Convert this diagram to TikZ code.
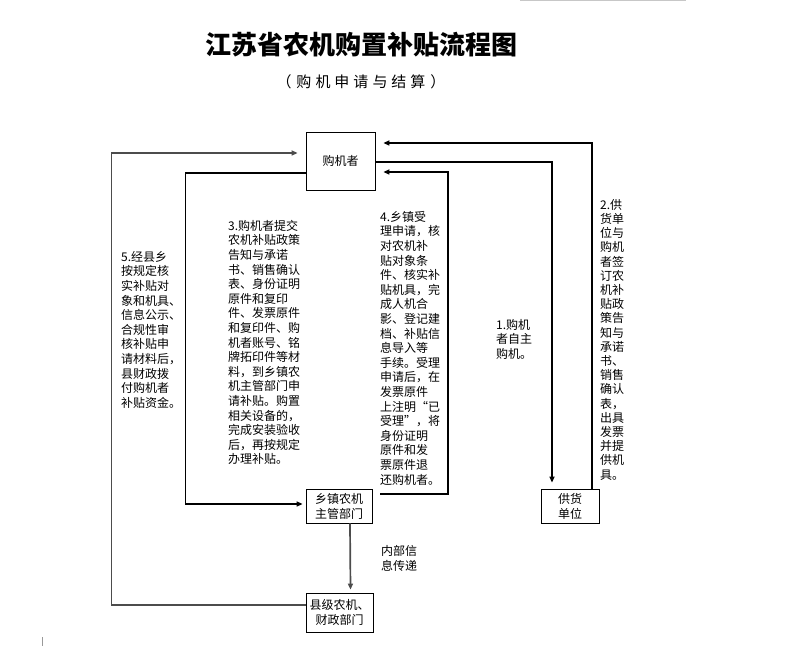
\documentclass[tikz,border=0pt]{standalone}
\usepackage{fontspec}
\newfontfamily\cjk{Noto Sans CJK SC}
\usetikzlibrary{arrows.meta}
\tikzset{
  box/.style={draw=black, line width=0.8pt, inner sep=0pt, align=center, font=\cjk\fontsize{12}{15}\selectfont},
  txt/.style={anchor=north west, inner sep=0pt, align=left, font=\cjk\fontsize{12}{14.6}\selectfont},
  bl/.style={draw=black, line width=1.6pt},
  gl/.style={draw=black!70, line width=1.7pt},
  tip/.style={-{Triangle[length=6pt,width=5pt]}}
}
\begin{document}
\begin{tikzpicture}[x=1pt,y=-1pt]
\useasboundingbox (0,0) rectangle (807,647);
% faint artifacts
\draw[black!22, line width=1.5pt] (520,0.7) -- (686,0.7);
\draw[black!40, line width=0.8pt] (42,637) -- (42,646);

% title
\node[inner sep=0pt, font=\cjk\bfseries\fontsize{26}{26}\selectfont] (title) at (361,45) {江苏省农机购置补贴流程图};
\node[inner sep=0pt, font=\cjk\fontsize{15}{15}\selectfont] (subtitle) at (361,82)
  {（\hspace{5pt}购\hspace{4pt}机\hspace{4pt}申\hspace{4pt}请\hspace{4pt}与\hspace{4pt}结\hspace{4pt}算\hspace{5pt}）};

% boxes
\node[box, minimum width=69pt, minimum height=58pt] (buyer) at (340.5,161) {购机者};
\node[box, minimum width=66pt, minimum height=34pt] (town) at (339,506) {乡镇农机\\主管部门};
\node[box, minimum width=67pt, minimum height=39pt] (county) at (339.5,612.5) {县级农机、\\财政部门};
\node[box, minimum width=58pt, minimum height=34pt] (supplier) at (570,506) {供货\\单位};

% connectors
\draw[gl,tip] ([yshift=7.5pt]county.west) -| ([xshift=-194pt,yshift=8pt]buyer.west) -- ([xshift=-8pt,yshift=8pt]buyer.west);
\draw[bl,tip] ([yshift=-12pt]buyer.west) -- ++(-120,0) |- ([xshift=-3pt,yshift=2pt]town.west);
\draw[bl,tip] ([xshift=22pt]supplier.north) |- ([xshift=8pt,yshift=18pt]buyer.east);
\draw[bl,tip] ([yshift=-1pt]buyer.east) -| ([xshift=-18pt,yshift=6pt]supplier.north);
\coordinate (ecorner) at (448,494);
\draw[bl,tip] ([xshift=8pt,yshift=12pt]town.east) -- (ecorner) |- ([xshift=8pt,yshift=-11pt]buyer.east);
\draw[gl,tip] ([xshift=11pt]town.south) -- ([xshift=11pt,yshift=3pt]county.north);

% texts
\node[txt] (t5) at (121,251) {5.经县乡\\按规定核\\实补贴对\\象和机具、\\信息公示、\\合规性审\\核补贴申\\请材料后，\\县财政拨\\付购机者\\补贴资金。};
\node[txt] (t3) at (228,220) {3.购机者提交\\农机补贴政策\\告知与承诺\\书、销售确认\\表、身份证明\\原件和复印\\件、发票原件\\和复印件、购\\机者账号、铭\\牌拓印件等材\\料，到乡镇农\\机主管部门申\\请补贴。购置\\相关设备的，\\完成安装验收\\后，再按规定\\办理补贴。};
\node[txt] (t4) at (380,211) {4.乡镇受\\理申请，核\\对农机补\\贴对象条\\件、核实补\\贴机具，完\\成人机合\\影、登记建\\档、补贴信\\息导入等\\手续。受理\\申请后，在\\发票原件\\上注明“已\\受理”，将\\身份证明\\原件和发\\票原件退\\还购机者。};
\node[txt] (t1) at (496,319) {1.购机\\者自主\\购机。};
\node[txt, font=\cjk\fontsize{12}{14.2}\selectfont] (t2) at (600,199) {2.供\\货单\\位与\\购机\\者签\\订农\\机补\\贴政\\策告\\知与\\承诺\\书、\\销售\\确认\\表，\\出具\\发票\\并提\\供机\\具。};
\node[txt, font=\cjk\fontsize{12}{15}\selectfont] (t6) at (381,545) {内部信\\息传递};
\end{tikzpicture}
\end{document}
